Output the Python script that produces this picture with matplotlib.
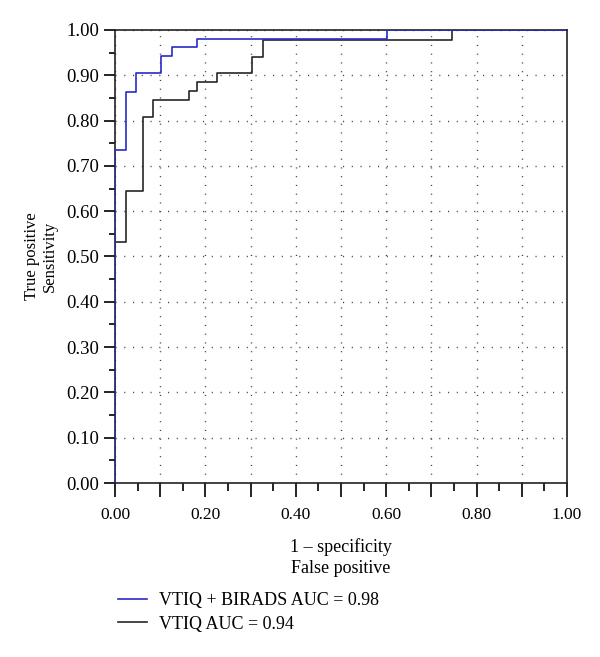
import matplotlib
matplotlib.use("Agg")
import matplotlib.pyplot as plt
from matplotlib.ticker import MultipleLocator, FuncFormatter

plt.rcParams['font.family'] = ['Liberation Serif', 'DejaVu Serif']

# ROC step curves (1 - specificity, sensitivity)
combo_fpr = [0.0, 0.0, 0.024, 0.024, 0.046, 0.046, 0.102, 0.102, 0.125, 0.125, 0.181, 0.181, 0.601, 0.601, 1.0]
combo_tpr = [0.0, 0.735, 0.735, 0.864, 0.864, 0.904, 0.904, 0.943, 0.943, 0.962, 0.962, 0.981, 0.981, 1.0, 1.0]
vtiq_fpr = [0.0, 0.0, 0.024, 0.024, 0.063, 0.063, 0.085, 0.085, 0.164, 0.164, 0.182, 0.182, 0.225, 0.225,
            0.302, 0.302, 0.328, 0.328, 0.746, 0.746, 1.0]
vtiq_tpr = [0.0, 0.533, 0.533, 0.645, 0.645, 0.809, 0.809, 0.845, 0.845, 0.866, 0.866, 0.886, 0.886, 0.904,
            0.904, 0.940, 0.940, 0.977, 0.977, 1.0, 1.0]
series_labels = ["VTIQ + BIRADS AUC = 0.98", "VTIQ AUC = 0.94"]
series_colors = ["#2a2ac8", "#262626"]

fig = plt.figure(figsize=(6.0, 6.57), dpi=100)
ax = fig.add_axes([115/600, 1-483/657, (567-115)/600, (483-30)/657])

l1, = ax.plot(combo_fpr, combo_tpr, color=series_colors[0], lw=1.2, zorder=4)
l2, = ax.plot(vtiq_fpr, vtiq_tpr, color=series_colors[1], lw=1.2, zorder=3)

ax.set_xlim(0, 1)
ax.set_ylim(0, 1)

ax.xaxis.set_major_locator(MultipleLocator(0.1))
ax.xaxis.set_minor_locator(MultipleLocator(0.05))
ax.yaxis.set_major_locator(MultipleLocator(0.1))
ax.yaxis.set_minor_locator(MultipleLocator(0.05))

def xfmt(v, pos):
    k = int(round(v * 10))
    return f"{v:.2f}" if k % 2 == 0 else ""
ax.xaxis.set_major_formatter(FuncFormatter(xfmt))
ax.yaxis.set_major_formatter(FuncFormatter(lambda v, p: f"{v:.2f}"))

ax.tick_params(axis='x', which='major', direction='out', length=10, width=1.2, labelsize=12.5, pad=7)
ax.tick_params(axis='x', which='minor', direction='out', length=6, width=1.2)
ax.tick_params(axis='y', which='major', direction='out', length=8, width=1.2, labelsize=13.5, pad=3.5)
ax.tick_params(axis='y', which='minor', direction='out', length=4.3, width=1.2)

for s in ax.spines.values():
    s.set_linewidth(1.2)
    s.set_color('#222222')

ax.grid(True, which='major', color='#444444', linewidth=1.0, linestyle=(0, (0.8, 5.5)))
ax.set_axisbelow(True)

ax.set_xlabel("1 – specificity\nFalse positive", fontsize=13, labelpad=11, linespacing=1.3)
ax.set_ylabel("True positive\nSensitivity", fontsize=12, labelpad=6, linespacing=1.15)

fig.legend([l1, l2], series_labels, loc='upper left', bbox_to_anchor=(102/600, 1-576/657),
           frameon=False, fontsize=13, handlelength=1.6, handletextpad=0.65, labelspacing=0.35)

fig.savefig("out.png", dpi=100)
